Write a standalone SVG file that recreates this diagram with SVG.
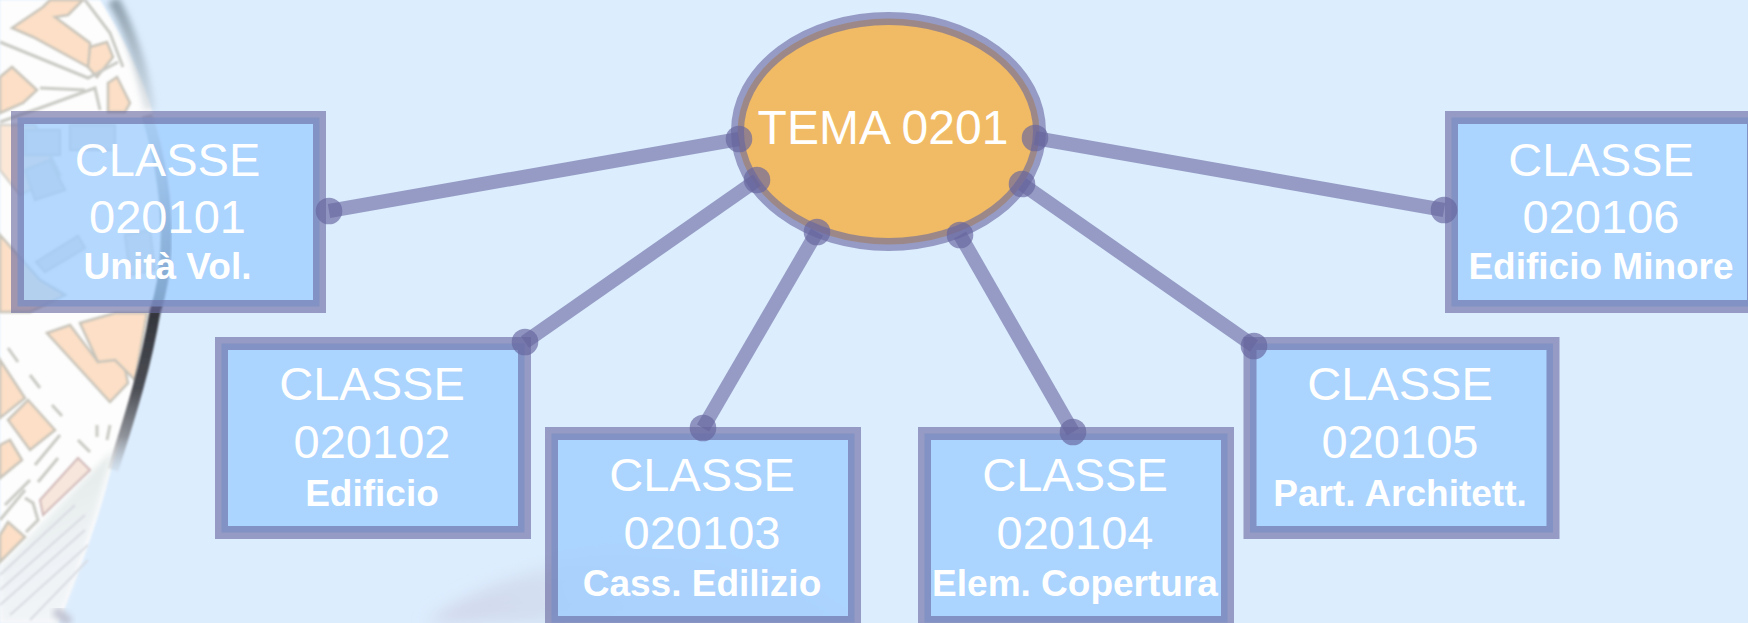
<svg xmlns="http://www.w3.org/2000/svg" width="1748" height="623" viewBox="0 0 1748 623">
<style>
.box{fill:#9acbfe;fill-opacity:.74;stroke:#69699f;stroke-opacity:.62;stroke-width:13}
.ell{fill:#f1bb65;stroke:#69699f;stroke-opacity:.62;stroke-width:13}
.ln{stroke:#69699f;stroke-opacity:.62;stroke-width:14;fill:none}
.dot{fill:#66649e;fill-opacity:.66}
text{fill:#fff;font-family:"Liberation Sans",Arial,sans-serif;text-anchor:middle}
.a{font-size:47px}
.b{font-size:37px;font-weight:700}
.t{font-size:48px}
.bld{fill:#fcdfc6;stroke:#c8c4ba;stroke-width:2.5}
.pale{fill:#e2e2de;stroke:#cfcfc8;stroke-width:2}
.gr{fill:none;stroke:#c9c9c4;stroke-width:3}
</style>
<defs>
<filter id="s1" x="-10%" y="-10%" width="120%" height="120%"><feGaussianBlur stdDeviation="1.2"/></filter>
<filter id="s3" x="-40%" y="-10%" width="180%" height="120%"><feGaussianBlur stdDeviation="3"/></filter>
<filter id="s8" x="-20%" y="-40%" width="140%" height="180%"><feGaussianBlur stdDeviation="8"/></filter>
<linearGradient id="arcTop" gradientUnits="userSpaceOnUse" x1="0" y1="0" x2="0" y2="120">
<stop offset="0" stop-color="#7f909d" stop-opacity=".85"/>
<stop offset=".6" stop-color="#a5b3bd" stop-opacity=".6"/>
<stop offset="1" stop-color="#c4ccd2" stop-opacity=".35"/>
</linearGradient>
<linearGradient id="arc" gradientUnits="userSpaceOnUse" x1="0" y1="115" x2="0" y2="480">
<stop offset="0" stop-color="#9aa6b0" stop-opacity=".5"/>
<stop offset=".3" stop-color="#5a6470" stop-opacity=".8"/>
<stop offset=".55" stop-color="#34363c"/>
<stop offset=".75" stop-color="#4c4e55"/>
<stop offset=".88" stop-color="#85888f" stop-opacity=".9"/>
<stop offset="1" stop-color="#b8bfc4" stop-opacity="0"/>
</linearGradient>
<linearGradient id="fade" gradientUnits="userSpaceOnUse" x1="0" y1="470" x2="70" y2="620">
<stop offset="0" stop-color="#dfe8e4"/>
<stop offset=".6" stop-color="#eef2f5"/>
<stop offset="1" stop-color="#f3f5f8"/>
</linearGradient>
<linearGradient id="low" gradientUnits="userSpaceOnUse" x1="425" y1="623" x2="640" y2="550">
<stop offset="0" stop-color="#d2d6ea"/>
<stop offset=".5" stop-color="#d3dff1"/>
<stop offset="1" stop-color="#d8e8fb"/>
</linearGradient>
</defs>
<rect width="1748" height="623" fill="#dcedfe"/>
<g id="map">
<path d="M0 0H100C125 40 148 85 158 135C168 190 172 250 158 310C146 368 130 420 112 465C100 515 80 570 58 623H0Z" fill="#fdfdfd" filter="url(#s1)"/>
<path d="M113 450L0 567V623H58C75 580 95 520 113 450Z" fill="url(#fade)" filter="url(#s3)"/>
<g filter="url(#s1)">
<path class="bld" d="M12 28L43 7L50 0H83L68 15L55 17L90 43V68L33 37Z"/>
<path class="bld" d="M90 47L107 42L113 57L97 77L88 67Z"/>
<path class="bld" d="M0 77L12 67L37 90L23 103L0 113Z"/>
<path class="bld" d="M108 83L117 77L130 103L125 112H108Z"/>
<path class="gr" d="M85 0L110 33L123 67M0 42L88 78L118 62M0 122L40 108L95 88L100 110M40 88L85 90"/>
<path class="bld" d="M0 125L35 125L60 175L20 195L0 170Z" opacity=".7"/>
<path class="pale" d="M25 130H60V155H25Z"/>
<path class="pale" d="M70 125H115V150H70Z"/>
<path class="pale" d="M25 170L50 160L65 190L35 200Z"/>
<path class="pale" d="M36 262L78 236L85 248L45 272Z"/>
<path class="pale" d="M125 235L150 230L155 270L130 275Z"/>
<path class="bld" d="M0 235L40 280L65 295L30 312H0Z"/>
<path class="bld" d="M47 333L70 325L98 362L120 345L128 383L110 402Z"/>
<path class="bld" d="M80 323L115 313H147L135 380L115 360L98 362Z"/>
<path class="bld" d="M0 360L25 398L0 418Z"/>
<path class="bld" d="M8 420L28 400L55 430L30 450Z"/>
<path class="bld" d="M0 445L10 440L22 460L0 478Z"/>
<path class="bld" d="M0 535L8 522L25 537L0 562Z"/>
<path d="M40 500L78 458L90 470L43 515Z" fill="#f6e6dc" stroke="#d0b8b8" stroke-width="2"/>
<path class="gr" d="M8 348L18 362M30 375L40 388M52 405L62 416M97 425V437M110 425L107 440M78 440L90 452M60 435L35 465M58 458L38 482M30 480L5 505M25 490L0 520M25 498L33 503L38 520L26 532"/>
<path d="M0 590L85 515M0 605L85 530M10 615L88 545M30 620L88 560M0 575L75 505" fill="none" stroke="#d8dce2" stroke-width="2"/>
</g>
<path d="M113 0C128 25 142 65 150 110" fill="none" stroke="url(#arcTop)" stroke-width="12" filter="url(#s3)"/>
<path d="M147 115C170 190 172 260 155 312C146 365 132 410 113 470" fill="none" stroke="url(#arc)" stroke-width="11" filter="url(#s1)"/>
<path d="M70 623L55 610" fill="none" stroke="#c2c5d3" stroke-width="10" filter="url(#s3)"/>
<path d="M425 623C470 590 545 558 640 553C720 550 800 585 850 623Z" fill="url(#low)" filter="url(#s8)"/>
</g>
<g id="node-tema"><ellipse class="ell" cx="888.5" cy="131.5" rx="151" ry="113"/><text class="t" x="883" y="144">TEMA 0201</text></g>
<g id="node-020101"><rect class="box" x="17.5" y="117.5" width="302" height="189"/><text class="a" x="167.5" y="176">CLASSE</text><text class="a" x="167.5" y="233">020101</text><text class="b" x="167.5" y="279">Unità Vol.</text></g>
<g id="node-020102"><rect class="box" x="221.5" y="343.5" width="303" height="189"/><text class="a" x="372" y="400">CLASSE</text><text class="a" x="372" y="458">020102</text><text class="b" x="372" y="506">Edificio</text></g>
<g id="node-020103"><rect class="box" x="551.5" y="433.5" width="303" height="189"/><text class="a" x="702" y="491">CLASSE</text><text class="a" x="702" y="549">020103</text><text class="b" x="702" y="596">Cass. Edilizio</text></g>
<g id="node-020104"><rect class="box" x="924.5" y="433.5" width="303" height="189"/><text class="a" x="1075" y="491">CLASSE</text><text class="a" x="1075" y="549">020104</text><text class="b" x="1075" y="596">Elem. Copertura</text></g>
<g id="node-020105"><rect class="box" x="1250" y="343.5" width="303" height="189"/><text class="a" x="1400" y="400">CLASSE</text><text class="a" x="1400" y="458">020105</text><text class="b" x="1400" y="506">Part. Architett.</text></g>
<g id="node-020106"><rect class="box" x="1451.5" y="117.5" width="302" height="189"/><text class="a" x="1601" y="176">CLASSE</text><text class="a" x="1601" y="233">020106</text><text class="b" x="1601" y="279">Edificio Minore</text></g>
<g id="connectors">
<line class="ln" x1="329" y1="211" x2="739" y2="139"/>
<line class="ln" x1="525" y1="342" x2="757" y2="180"/>
<line class="ln" x1="703" y1="428" x2="817" y2="232"/>
<line class="ln" x1="1073" y1="432" x2="960" y2="235"/>
<line class="ln" x1="1254" y1="346" x2="1022" y2="184"/>
<line class="ln" x1="1444" y1="210" x2="1035" y2="138"/>
<circle class="dot" cx="329" cy="211" r="13.3"/><circle class="dot" cx="739" cy="139" r="13.3"/>
<circle class="dot" cx="525" cy="342" r="13.3"/><circle class="dot" cx="757" cy="180" r="13.3"/>
<circle class="dot" cx="703" cy="428" r="13.3"/><circle class="dot" cx="817" cy="232" r="13.3"/>
<circle class="dot" cx="1073" cy="432" r="13.3"/><circle class="dot" cx="960" cy="235" r="13.3"/>
<circle class="dot" cx="1254" cy="346" r="13.3"/><circle class="dot" cx="1022" cy="184" r="13.3"/>
<circle class="dot" cx="1444" cy="210" r="13.3"/><circle class="dot" cx="1035" cy="138" r="13.3"/>
</g>
</svg>
